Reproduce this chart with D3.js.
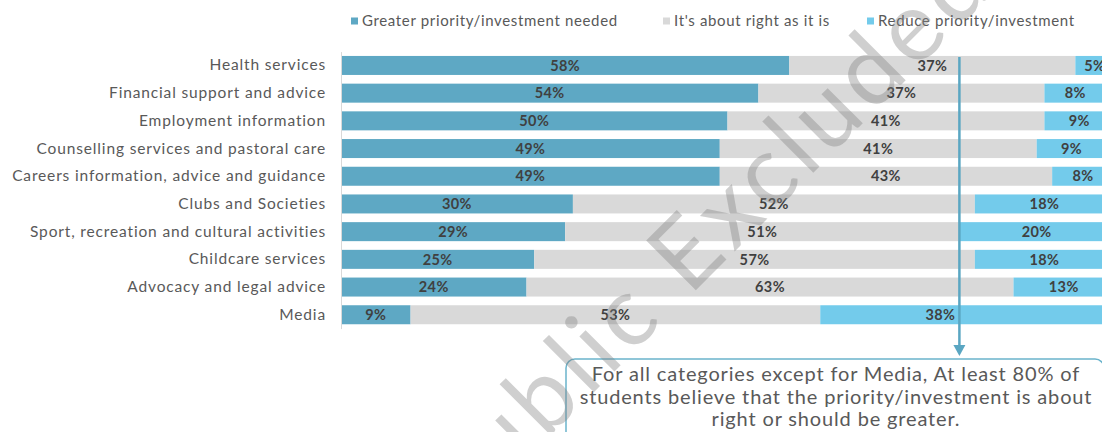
<!DOCTYPE html>
<html>
<head>
<meta charset="utf-8">
<script src="https://cdn.jsdelivr.net/npm/d3@7"></script>
<style>
  html, body { margin: 0; padding: 0; background: #fff; overflow: hidden; }
  svg { display: block; }
</style>
</head>
<body>
<svg id="chart" width="1102" height="432"></svg>
<script>
// Survey: how should priority / investment change for each student service?
const categories = [
  "Health services",
  "Financial support and advice",
  "Employment information",
  "Counselling services and pastoral care",
  "Careers information, advice and guidance",
  "Clubs and Societies",
  "Sport, recreation and cultural activities",
  "Childcare services",
  "Advocacy and legal advice",
  "Media"
];
const greaterNeeded = [58, 54, 50, 49, 49, 30, 29, 25, 24, 9];
const aboutRight    = [37, 37, 41, 41, 43, 52, 51, 57, 63, 53];
const reduceNeeded  = [5, 8, 9, 9, 8, 18, 20, 18, 13, 38];
const seriesKeys    = ["greater", "about", "reduce"];
const seriesNames   = ["Greater priority/investment needed", "It's about right as it is", "Reduce priority/investment"];
const thresholdPct  = 80;
const calloutLines  = [
  "For all categories except for Media, At least 80% of",
  "students believe that the priority/investment is about",
  "right or should be greater."
];
const watermarkText = "Public Excluded";

const FONT = "Lato, 'Open Sans', sans-serif";
const svg = d3.select("#chart");

const rows = categories.map((c, i) => ({
  category: c,
  greater: greaterNeeded[i],
  about: aboutRight[i],
  reduce: reduceNeeded[i]
}));

const x = d3.scaleLinear().domain([0, 100]).range([341, 1114]);
const y = d3.scaleBand().domain(categories)
  .range([51.6, 328.6]).paddingInner(0.314).paddingOuter(0.157);
const color = d3.scaleOrdinal().domain(seriesKeys)
  .range(["#5EA8C4", "#D9D9D9", "#73CBEB"]);

const stacked = d3.stack().keys(seriesKeys)(rows);

// stacked bars
const layer = svg.append("g").selectAll("g")
  .data(stacked).join("g")
  .attr("fill", d => color(d.key));

layer.selectAll("rect")
  .data(d => d.map(s => Object.assign(s, { key: d.key })))
  .join("rect")
  .attr("x", d => x(d[0]))
  .attr("y", d => y(d.data.category))
  .attr("width", d => x(d[1]) - x(d[0]))
  .attr("height", y.bandwidth());

// category axis
const axis = svg.append("g")
  .attr("transform", `translate(${x(0)},0)`)
  .call(d3.axisLeft(y).tickSize(0).tickSizeOuter(0).tickPadding(15));
axis.select(".domain").attr("stroke", "#D9D9D9").attr("stroke-width", 1);
axis.selectAll("text")
  .attr("font-family", FONT).attr("font-size", 15.5)
  .attr("letter-spacing", 0.85).attr("fill", "#595959");

// value labels
layer.selectAll("text")
  .data(d => d)
  .join("text")
  .attr("x", d => {
    // a segment crossing the threshold marker keeps its label left of it
    if (d.key === "reduce" && d[0] < thresholdPct) return x(thresholdPct) - 4;
    return (x(d[0]) + x(d[1])) / 2;
  })
  .attr("text-anchor", d => (d.key === "reduce" && d[0] < thresholdPct) ? "end" : "middle")
  .attr("y", d => y(d.data.category) + y.bandwidth() / 2)
  .attr("dy", "0.36em")
  .attr("font-family", FONT).attr("font-weight", 700).attr("font-size", 14.5)
  .attr("letter-spacing", 0.4)
  .attr("fill", "#404040")
  .text(d => `${d.data[d.key]}%`);

// legend
const legendX = [351, 663, 867];
const legend = svg.append("g").selectAll("g")
  .data(seriesKeys).join("g")
  .attr("transform", (d, i) => `translate(${legendX[i]},21)`);
legend.append("rect")
  .attr("x", 0).attr("y", -3.5).attr("width", 7).attr("height", 7)
  .attr("fill", d => color(d));
legend.append("text")
  .attr("x", 11).attr("dy", "0.35em")
  .attr("font-family", FONT).attr("font-size", 15)
  .attr("letter-spacing", 0.65).attr("fill", "#595959")
  .text((d, i) => seriesNames[i]);

// threshold marker with arrow down to the callout
const mx = x(thresholdPct);
svg.append("line")
  .attr("x1", mx).attr("x2", mx).attr("y1", 57).attr("y2", 346)
  .attr("stroke", "#5AA6C2").attr("stroke-width", 2.5);
svg.append("path")
  .attr("d", `M${mx - 6},345 L${mx + 6},345 L${mx},356 Z`)
  .attr("fill", "#5AA6C2");

// callout box
svg.append("rect")
  .attr("x", 566).attr("y", 359).attr("width", 538).attr("height", 90).attr("rx", 9)
  .attr("fill", "none").attr("stroke", "#6BB4CC").attr("stroke-width", 1.5);
svg.append("g").selectAll("text")
  .data(calloutLines).join("text")
  .attr("x", 836)
  .attr("y", (d, i) => 374 + i * 22.5)
  .attr("dy", "0.35em")
  .attr("text-anchor", "middle")
  .attr("font-family", FONT).attr("font-size", 20)
  .attr("letter-spacing", 0.85).attr("fill", "#595959")
  .text(d => d);

// watermark
svg.append("text")
  .attr("transform", "translate(728,258) rotate(-45)")
  .attr("text-anchor", "middle")
  .attr("font-family", FONT).attr("font-size", 98)
  .attr("letter-spacing", 6)
  .attr("fill", "#808080").attr("fill-opacity", 0.38)
  .text(watermarkText);
</script>
</body>
</html>
